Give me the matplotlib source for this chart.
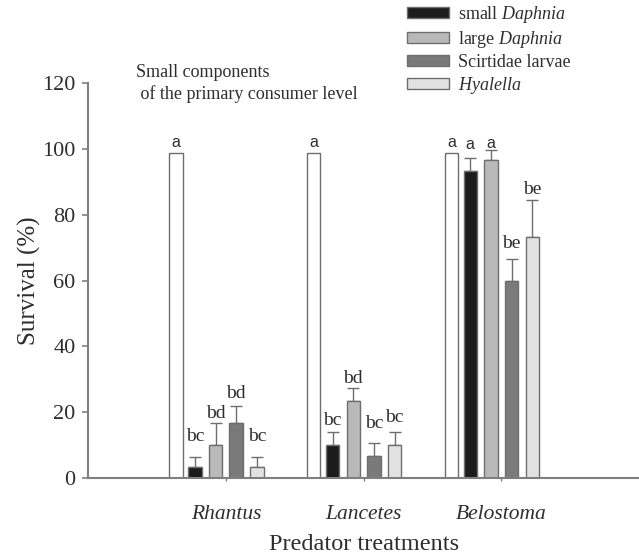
import numpy as np
import matplotlib
matplotlib.use("Agg")
import matplotlib.pyplot as plt
from matplotlib.patches import Patch

plt.rcParams['font.family'] = 'Liberation Serif'
plt.rcParams['mathtext.fontset'] = 'custom'
plt.rcParams['mathtext.rm'] = 'Liberation Serif'
plt.rcParams['mathtext.it'] = 'Liberation Serif:italic'

predators = ['Rhantus', 'Lancetes', 'Belostoma']
prey = ['small $\\it{Daphnia}$', 'large $\\it{Daphnia}$', 'Scirtidae larvae', '$\\it{Hyalella}$']

# control survival (no predator) per treatment
control = [98.6, 98.6, 98.6]
control_letters = ['a', 'a', 'a']

# survival of each prey type (rows: prey, cols: predator)
survival = np.array([
    [3.3, 10.0, 93.3],
    [10.0, 23.3, 96.7],
    [16.7, 6.7, 60.0],
    [3.3, 10.0, 73.3],
])
errors = np.array([
    [3.2, 4.0, 4.0],
    [6.6, 4.0, 3.0],
    [5.1, 4.0, 6.6],
    [3.2, 4.0, 11.2],
])
letters = [
    ['bc', 'bc', 'a'],
    ['bd', 'bd', 'a'],
    ['bd', 'bc', 'be'],
    ['bc', 'bc', 'be'],
]
# gap (points) between error cap and its letter
letter_gap = np.array([
    [11, 5, 6],
    [4, 4, 1],
    [6, 11, 8],
    [11, 7, 4],
])

colors = ['#1c1c1c', '#b9b9b9', '#7a7a7a', '#e2e2e2']
edge = '#6e6e6e'
axis_grey = '#7f7f7f'
text_col = '#2e2e2e'

fig = plt.figure(figsize=(6.39, 5.56), dpi=100)
ax = fig.add_axes([0.138, 0.140, 0.862, 0.711])

x = np.arange(1, len(predators) + 1)
width = 0.098
step = 0.15
offsets = (np.arange(4) - 1.5) * step

ax.bar(x - 0.362, control, width, color='white', edgecolor=edge, linewidth=1.0, zorder=2)
for xi, v, lab in zip(x, control, control_letters):
    ax.annotate(lab, (xi - 0.362, v), xytext=(0, 4.5), textcoords='offset points',
                ha='center', va='baseline', fontsize=11.5, family='Liberation Sans', color=text_col)

for i in range(4):
    xs = x + offsets[i]
    ax.bar(xs, survival[i], width, color=colors[i], edgecolor=edge, linewidth=1.0, zorder=2)
    ax.errorbar(xs, survival[i], yerr=[np.zeros(3), errors[i]], fmt='none',
                ecolor=edge, elinewidth=1.0, capsize=4, capthick=1.0, zorder=1)
    for j in range(3):
        lab = letters[i][j]
        fam = 'Liberation Sans' if lab == 'a' else 'Liberation Serif'
        fs = 11.5 if lab == 'a' else 14
        ax.annotate(lab, (xs[j], survival[i][j] + errors[i][j]), xytext=(0, letter_gap[i][j]),
                    textcoords='offset points', ha='center', va='baseline',
                    fontsize=fs, family=fam, color=text_col)

ax.set_xlim(0, 4)
ax.set_ylim(0, 120)
ax.set_yticks(np.arange(0, 121, 20))
ax.set_xticks(x)
ax.set_xticklabels(predators, style='italic', fontsize=15.5)
ax.tick_params(axis='y', labelsize=16, length=4, width=1.2, color=axis_grey, pad=5, labelcolor=text_col)
ax.tick_params(axis='x', length=2.5, width=1.0, color=axis_grey, pad=17, labelcolor=text_col)

for side in ['top', 'right']:
    ax.spines[side].set_visible(False)
for side in ['left', 'bottom']:
    ax.spines[side].set_color(axis_grey)
    ax.spines[side].set_linewidth(1.5)

ax.set_ylabel('Survival (%)', fontsize=18, color=text_col, labelpad=1)
ax.set_xlabel('Predator treatments', fontsize=17.5, color=text_col, labelpad=7)

ax.text(0.087, 0.948, 'Small components\n of the primary consumer level', transform=ax.transAxes,
        fontsize=13, color=text_col, va='bottom', ha='left', linespacing=1.3)

handles = [Patch(facecolor=c, edgecolor=edge, linewidth=1.0) for c in colors]
fig.legend(handles, prey, loc='upper left', bbox_to_anchor=(0.62, 1.012), frameon=False,
           fontsize=13, handlelength=2.3, handleheight=0.55, labelspacing=0.22,
           handletextpad=0.55, borderaxespad=0.2, labelcolor=text_col)

fig.savefig('out.png', dpi=100)
